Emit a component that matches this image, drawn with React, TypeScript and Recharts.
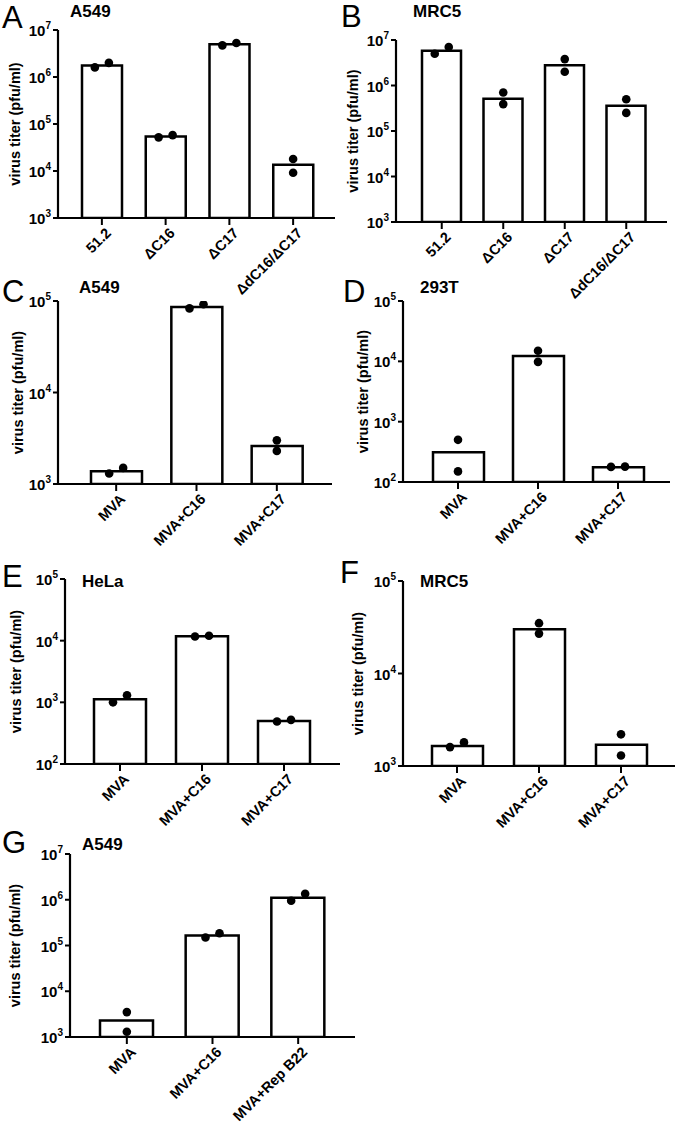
import React from 'react';
import { ComposedChart, Bar, Scatter, XAxis, YAxis } from 'recharts';

const FONT = '"Liberation Sans", Arial, Helvetica, sans-serif';

// categories
const strainCats = ['51.2', 'ΔC16', 'ΔC17', 'ΔdC16/ΔC17'];
const mvaCats = ['MVA', 'MVA+C16', 'MVA+C17'];
const repCats = ['MVA', 'MVA+C16', 'MVA+Rep B22'];

// y ticks
const ticks3to7 = [1e3, 1e4, 1e5, 1e6, 1e7];
const ticks3to5 = [1e3, 1e4, 1e5];
const ticks2to5 = [1e2, 1e3, 1e4, 1e5];

// A - A549
const titerA = [1.75e6, 5.4e4, 5.0e6, 1.35e4];
const repA1 = [1.6e6, 5.2e4, 4.7e6, 9.2e3];
const repA2 = [2.0e6, 5.8e4, 5.3e6, 1.8e4];

// B - MRC5
const titerB = [5.8e6, 5.1e5, 2.8e6, 3.6e5];
const repB1 = [5.0e6, 3.9e5, 2.0e6, 2.5e5];
const repB2 = [7.0e6, 7.0e5, 3.8e6, 5.0e5];

// C - A549
const titerC = [1.38e3, 8.6e4, 2.6e3];
const repC1 = [1.3e3, 8.3e4, 2.3e3];
const repC2 = [1.5e3, 9.2e4, 3.0e3];

// D - 293T
const titerD = [3.1e2, 1.22e4, 1.75e2];
const repD1 = [1.5e2, 9.8e3, 1.78e2];
const repD2 = [5.0e2, 1.5e4, 1.8e2];

// E - HeLa
const titerE = [1.12e3, 1.18e4, 5.0e2];
const repE1 = [1.0e3, 1.17e4, 4.9e2];
const repE2 = [1.3e3, 1.2e4, 5.2e2];

// F - MRC5
const titerF = [1.65e3, 3.0e4, 1.7e3];
const repF1 = [1.6e3, 2.7e4, 1.3e3];
const repF2 = [1.8e3, 3.5e4, 2.2e3];

// G - A549
const titerG = [2.3e3, 1.65e5, 1.1e6];
const repG1 = [1.3e3, 1.5e5, 9.5e5];
const repG2 = [3.5e3, 1.85e5, 1.35e6];

const panels = [
  { letter: 'A', title: 'A549', cats: strainCats, mean: titerA, r1: repA1, r2: repA2, ticks: ticks3to7, box: [58, 30, 335, 218], pad: [12, 10], barSize: 40, labelX: 15, letterPos: [2, 28], titlePos: [70, 17] },
  { letter: 'B', title: 'MRC5', cats: strainCats, mean: titerB, r1: repB1, r2: repB2, ticks: ticks3to7, box: [396, 40, 667, 222], pad: [15, 10], barSize: 39, labelX: 353, letterPos: [341, 27], titlePos: [413, 17] },
  { letter: 'C', title: 'A549', cats: mvaCats, mean: titerC, r1: repC1, r2: repC2, ticks: ticks3to5, box: [58, 301, 332, 484], pad: [18, 15], barSize: 51, labelX: 18, letterPos: [2, 302], titlePos: [79, 293] },
  { letter: 'D', title: '293T', cats: mvaCats, mean: titerD, r1: repD1, r2: repD2, ticks: ticks2to5, box: [403, 301, 670, 482], pad: [15, 12], barSize: 51, labelX: 363, letterPos: [343, 302], titlePos: [420, 293] },
  { letter: 'E', title: 'HeLa', cats: mvaCats, mean: titerE, r1: repE1, r2: repE2, ticks: ticks2to5, box: [65, 579, 340, 764], pad: [14, 15], barSize: 52, labelX: 16, letterPos: [2, 587], titlePos: [82, 587] },
  { letter: 'F', title: 'MRC5', cats: mvaCats, mean: titerF, r1: repF1, r2: repF2, ticks: ticks3to5, box: [403, 581, 675, 766], pad: [13, 13], barSize: 51, labelX: 358, letterPos: [340, 583], titlePos: [420, 587] },
  { letter: 'G', title: 'A549', cats: repCats, mean: titerG, r1: repG1, r2: repG2, ticks: ticks3to7, box: [70, 854, 355, 1037], pad: [14, 14], barSize: 53, labelX: 15, letterPos: [2, 853], titlePos: [82, 850] },
];

const YW = 50;
const TOP = 15;
const RIGHT = 10;
const XH = 110;

function PowTick(props: any) {
  const { x, y, payload } = props;
  const exp = Math.round(Math.log10(payload.value));
  return (
    <text x={x} y={y + 6} textAnchor="end" fontFamily={FONT} fontWeight="bold" fontSize={15} fill="#000">
      10<tspan dy={-7} fontSize={10}>{exp}</tspan>
    </text>
  );
}

function SlantTick(props: any) {
  const { x, y, payload } = props;
  const ax = x + 10;
  const ay = y + 7;
  return (
    <text x={ax} y={ay} transform={`rotate(-45 ${ax} ${ay})`} textAnchor="end" fontFamily={FONT} fontWeight="bold" fontSize={14.5} fill="#000">
      {payload.value}
    </text>
  );
}

function Panel({ p }: { p: any }) {
  const [x0, y0, x1, y1] = p.box;
  const lo = p.ticks[0];
  const hi = p.ticks[p.ticks.length - 1];
  const decadePx = (y1 - y0) / (Math.log10(hi) - Math.log10(lo));
  const data = p.cats.map((name: string, i: number) => ({ name, mean: p.mean[i], r1: p.r1[i], r2: p.r2[i] }));

  // spread the two replicate dots sideways only when they would overlap
  const dot = (side: number) => (s: any) => {
    const close = Math.abs(Math.log10(s.payload.r2 / s.payload.r1)) * decadePx < 9;
    return <circle cx={s.cx + (close ? side * 7 : 0)} cy={s.cy} r={4.3} fill="#000" />;
  };

  const width = x1 - x0 + YW + RIGHT;
  const height = y1 - y0 + TOP + XH;

  return (
    <div style={{ position: 'absolute', left: x0 - YW, top: y0 - TOP }}>
      <ComposedChart width={width} height={height} data={data} margin={{ top: TOP, right: RIGHT, left: 0, bottom: 0 }}>
        <XAxis
          dataKey="name"
          type="category"
          height={XH}
          padding={{ left: p.pad[0], right: p.pad[1] }}
          axisLine={{ stroke: '#000', strokeWidth: 2.2 }}
          tickLine={{ stroke: '#000', strokeWidth: 2 }}
          tickSize={7}
          interval={0}
          tick={<SlantTick />}
        />
        <YAxis
          scale="log"
          type="number"
          domain={[lo, hi]}
          allowDataOverflow
          ticks={p.ticks}
          width={YW}
          axisLine={{ stroke: '#000', strokeWidth: 2.2 }}
          tickLine={{ stroke: '#000', strokeWidth: 2 }}
          tickSize={5}
          tick={<PowTick />}
        />
        <Bar dataKey="mean" barSize={p.barSize} fill="#fff" stroke="#000" strokeWidth={2.5} isAnimationActive={false} />
        <Scatter dataKey="r1" shape={dot(-1)} isAnimationActive={false} />
        <Scatter dataKey="r2" shape={dot(1)} isAnimationActive={false} />
      </ComposedChart>
    </div>
  );
}

export default function App() {
  return (
    <div style={{ position: 'absolute', left: 0, top: 0, width: 678, height: 1129, background: '#fff', fontFamily: FONT }}>
      <svg width={678} height={1129} style={{ position: 'absolute', left: 0, top: 0 }}>
        {panels.map((p) => {
          const cy = (p.box[1] + p.box[3]) / 2;
          return (
            <g key={p.letter}>
              <text x={p.letterPos[0]} y={p.letterPos[1]} fontFamily={FONT} fontSize={31} fill="#000">{p.letter}</text>
              <text x={p.titlePos[0]} y={p.titlePos[1]} fontFamily={FONT} fontWeight="bold" fontSize={17} fill="#000">{p.title}</text>
              <text
                x={p.labelX}
                y={cy}
                transform={`rotate(-90 ${p.labelX} ${cy})`}
                textAnchor="middle"
                dominantBaseline="central"
                fontFamily={FONT}
                fontWeight="bold"
                fontSize={14.5}
                fill="#000"
              >
                virus titer (pfu/ml)
              </text>
            </g>
          );
        })}
      </svg>
      {panels.map((p) => (
        <Panel key={p.letter} p={p} />
      ))}
    </div>
  );
}
